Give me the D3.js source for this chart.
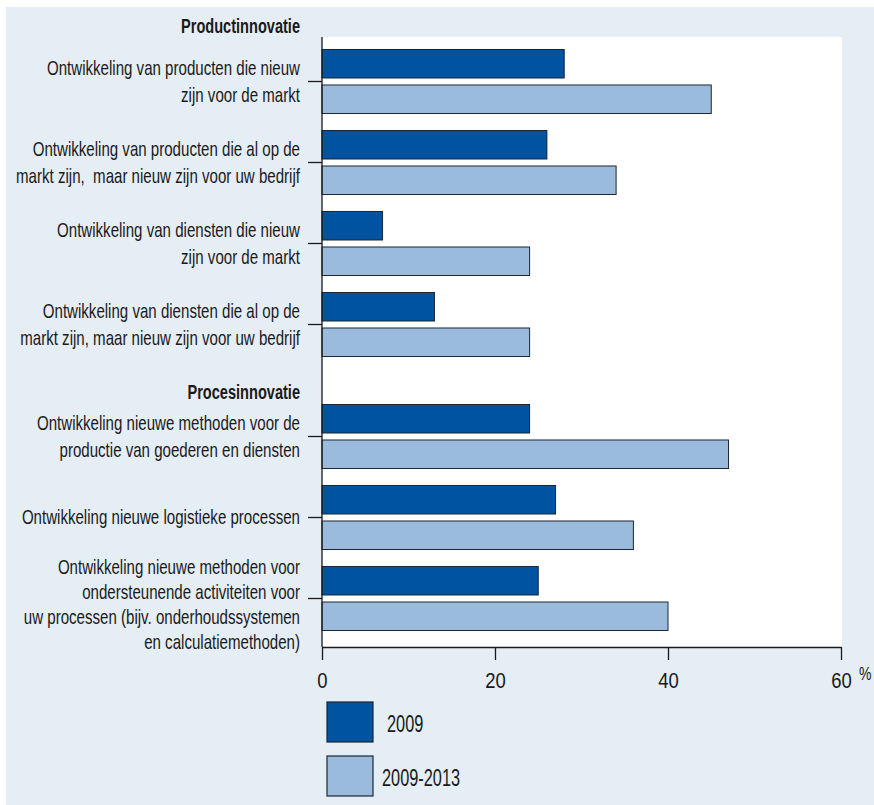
<!DOCTYPE html>
<html>
<head>
<meta charset="utf-8">
<script src="https://cdn.jsdelivr.net/npm/d3@7"></script>
<style>
  body { margin: 0; background: #ffffff; }
  svg text { font-family: "Liberation Sans", Arial, sans-serif; fill: #1a1a1a; }
</style>
</head>
<body>
<svg id="chart" width="874" height="805"></svg>
<script>
// Innovation activities, share of firms (%)
const categories = [
  "Ontwikkeling van producten die nieuw\nzijn voor de markt",
  "Ontwikkeling van producten die al op de\nmarkt zijn,  maar nieuw zijn voor uw bedrijf",
  "Ontwikkeling van diensten die nieuw\nzijn voor de markt",
  "Ontwikkeling van diensten die al op de\nmarkt zijn, maar nieuw zijn voor uw bedrijf",
  "Ontwikkeling nieuwe methoden voor de\nproductie van goederen en diensten",
  "Ontwikkeling nieuwe logistieke processen",
  "Ontwikkeling nieuwe methoden voor\nondersteunende activiteiten voor\nuw processen (bijv. onderhoudssystemen\nen calculatiemethoden)"
];
const sections = ["Productinnovatie", "Procesinnovatie"];
const categorySection = [0, 0, 0, 0, 1, 1, 1];
const series = ["2009", "2009-2013"];
const values2009 = [28, 26, 7, 13, 24, 27, 25];
const values2009_2013 = [45, 34, 24, 24, 47, 36, 40];
const xTicks = [0, 20, 40, 60];

const colors = { "2009": "#0053a1", "2009-2013": "#9bbbdc" };
const ink = "#1a1a1a";

// narrow the glyphs of a text (or tspan) selection horizontally
function condense(sel, factor) {
  sel.each(function () {
    const w = this.getComputedTextLength();
    d3.select(this).attr("textLength", w * factor).attr("lengthAdjust", "spacingAndGlyphs");
  });
}
// width factor that brings a sample string to a given width
function factorFor(str, size, weight, width) {
  const p = svg.append("text").attr("font-size", size).attr("font-weight", weight).text(str);
  const f = width / p.node().getComputedTextLength();
  p.remove();
  return f;
}

const svg = d3.select("#chart");

// background panel
svg.append("rect").attr("x", 6).attr("y", 7).attr("width", 868).attr("height", 798).attr("fill", "#e5edf5");

const plotLeft = 322, plotRight = 841, plotTop = 37, plotBottom = 647;

const x = d3.scaleLinear().domain([0, 60]).range([plotLeft, plotRight]);

// one band scale per section; the gap between them holds the second heading
const sectionIdx = sections.map((s, i) => categories.map((c, j) => j).filter(j => categorySection[j] === i));
const yScales = [
  d3.scaleBand().domain(sectionIdx[0]).range([41, 365]),
  d3.scaleBand().domain(sectionIdx[1]).range([396, 639])
];
const yOf = j => yScales[categorySection[j]](j);
const band = yScales[0].bandwidth();
const inner = d3.scaleBand().domain(series).range([0, band]).paddingInner(0.197).paddingOuter(0.239);

// plot area
svg.append("rect").attr("x", plotLeft).attr("y", plotTop)
  .attr("width", plotRight - plotLeft + 1).attr("height", plotBottom - plotTop).attr("fill", "#ffffff");

const rows = categories.map((c, j) => ({ j, label: c, vals: [values2009[j], values2009_2013[j]] }));

// bars
const g = svg.append("g");
rows.forEach(r => {
  series.forEach((s, k) => {
    g.append("rect")
      .attr("x", x(0))
      .attr("y", yOf(r.j) + inner(s))
      .attr("width", x(r.vals[k]) - x(0))
      .attr("height", inner.bandwidth())
      .attr("fill", colors[s])
      .attr("stroke", "#1c2633")
      .attr("stroke-width", 1);
  });
});

const labelSize = 21;
const labelFactor = factorFor("Ontwikkeling van producten die nieuw", labelSize, "normal", 253);

// y axis line, ticks and category labels
svg.append("line").attr("x1", plotLeft).attr("x2", plotLeft).attr("y1", plotTop).attr("y2", plotBottom)
  .attr("stroke", ink).attr("stroke-width", 1.3);
rows.forEach(r => {
  const cy = yOf(r.j) + band / 2;
  svg.append("line").attr("x1", plotLeft - 14).attr("x2", plotLeft).attr("y1", cy).attr("y2", cy)
    .attr("stroke", ink).attr("stroke-width", 1.3);
  const lines = r.label.split("\n");
  const lh = lines.length > 2 ? 25 : 27;
  const shift = lines.length > 2 ? 6 : 0;
  const t = svg.append("text").attr("text-anchor", "end").attr("font-size", labelSize)
    .style("white-space", "pre");
  lines.forEach((ln, i) => {
    t.append("tspan").attr("x", 300)
      .attr("y", cy + shift + (i - (lines.length - 1) / 2) * lh + 6.5)
      .text(ln);
  });
  condense(t.selectAll("tspan"), labelFactor);
});

// section headings
const headFactor = factorFor(sections[0], 20, "bold", 119);
svg.append("text").attr("x", 300).attr("y", yScales[0].range()[0] - 8).attr("text-anchor", "end")
  .attr("font-size", 20).attr("font-weight", "bold").text(sections[0]).call(condense, headFactor);
svg.append("text").attr("x", 300).attr("y", yScales[1].range()[0] + 2.5).attr("text-anchor", "end")
  .attr("font-size", 20).attr("font-weight", "bold").text(sections[1]).call(condense, headFactor);

// x axis
const xAxis = d3.axisBottom(x).tickValues(xTicks).tickSize(13).tickPadding(8).tickSizeOuter(0);
const xg = svg.append("g").attr("transform", `translate(0,${plotBottom})`).call(xAxis);
xg.attr("font-family", null).attr("font-size", null);
xg.select(".domain").attr("stroke", ink).attr("stroke-width", 1.3);
xg.selectAll(".tick line").attr("stroke", ink).attr("stroke-width", 1.3);
xg.selectAll(".tick text").attr("font-size", 22).attr("fill", ink).attr("dy", "0.93em");
condense(xg.selectAll(".tick text"), 0.84);
svg.append("text").attr("x", 859).attr("y", 680).attr("font-size", 18).text("%")
  .call(condense, 0.78);

// legend
const legend = svg.append("g");
series.forEach((s, k) => {
  const ly = 702 + k * 54;
  legend.append("rect").attr("x", 327).attr("y", ly).attr("width", 46).attr("height", 40)
    .attr("fill", colors[s]).attr("stroke", "#1c2633").attr("stroke-width", 1.2);
  legend.append("text").attr("x", k === 0 ? 387 : 382).attr("y", ly + 29.5)
    .attr("font-size", 24).text(s).call(condense, 0.68);
});
</script>
</body>
</html>
